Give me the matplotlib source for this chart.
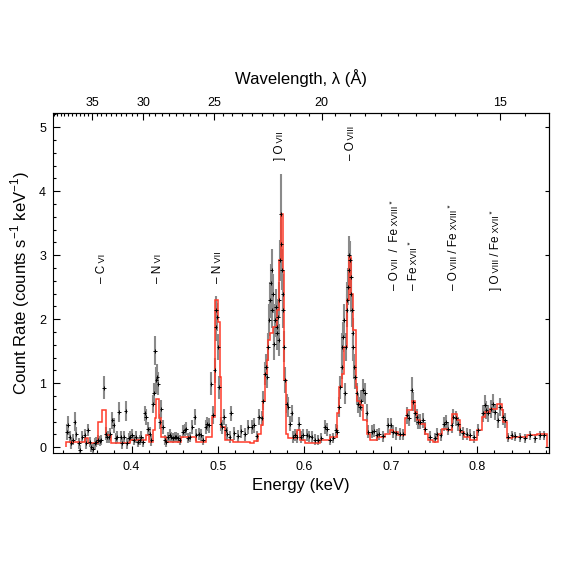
import numpy as np
import matplotlib
matplotlib.use('Agg')
import matplotlib.pyplot as plt
from matplotlib.ticker import MultipleLocator, FixedLocator

plt.rcParams['font.family'] = ['Liberation Sans', 'DejaVu Sans']

# ---------------- data ----------------
energy = [
    0.3251, 0.3263, 0.3282, 0.3301, 0.3321, 0.3340, 0.3359, 0.3390, 0.3405, 0.3429,
    0.3456, 0.3475, 0.3494, 0.3513, 0.3533, 0.3552, 0.3571, 0.3591, 0.3610, 0.3629,
    0.3648, 0.3679, 0.3699, 0.3714, 0.3733, 0.3753, 0.3776, 0.3791, 0.3814, 0.3834,
    0.3853, 0.3872, 0.3891, 0.3911, 0.3930, 0.3945, 0.3965, 0.3984, 0.4003, 0.4023,
    0.4046, 0.4073, 0.4092, 0.4111, 0.4131, 0.4150, 0.4169, 0.4189, 0.4208, 0.4227,
    0.4246, 0.4258, 0.4270, 0.4285, 0.4297, 0.4308, 0.4324, 0.4343, 0.4362, 0.4381,
    0.4401, 0.4420, 0.4439, 0.4459, 0.4478, 0.4497, 0.4517, 0.4536, 0.4555, 0.4594,
    0.4613, 0.4632, 0.4652, 0.4671, 0.4702, 0.4729, 0.4748, 0.4779, 0.4806, 0.4825,
    0.4856, 0.4875, 0.4895, 0.4922, 0.4941, 0.4960, 0.4972, 0.4979, 0.4991, 0.5003,
    0.5014, 0.5030, 0.5049, 0.5068, 0.5088, 0.5107, 0.5134, 0.5153, 0.5190, 0.5230,
    0.5270, 0.5310, 0.5350,
    0.5388, 0.5415, 0.5446, 0.5477, 0.5504, 0.5523, 0.5543, 0.5554, 0.5570, 0.5581,
    0.5593, 0.5600, 0.5608, 0.5620, 0.5627, 0.5639, 0.5647, 0.5658, 0.5670, 0.5678,
    0.5685, 0.5693, 0.5701, 0.5709, 0.5716, 0.5724, 0.5732, 0.5739, 0.5747, 0.5755,
    0.5762, 0.5774, 0.5793, 0.5813, 0.5832, 0.5851, 0.5871, 0.5890, 0.5909, 0.5940,
    0.5955, 0.5986, 0.6025, 0.6056, 0.6083, 0.6121, 0.6160, 0.6198, 0.6237, 0.6264,
    0.6295, 0.6334, 0.6364, 0.6380, 0.6403, 0.6418, 0.6430, 0.6441, 0.6449, 0.6457,
    0.6469, 0.6476, 0.6488, 0.6496, 0.6503, 0.6511, 0.6519, 0.6526, 0.6534, 0.6542,
    0.6550, 0.6557, 0.6565, 0.6577, 0.6588, 0.6604, 0.6623, 0.6642, 0.6661, 0.6681,
    0.6700, 0.6719, 0.6739,
    0.6777, 0.6804, 0.6835, 0.6866, 0.6912, 0.6970, 0.6997, 0.7028, 0.7059, 0.7105,
    0.7144, 0.7190, 0.7213, 0.7240, 0.7260, 0.7279, 0.7298, 0.7317, 0.7344, 0.7375,
    0.7395, 0.7452, 0.7510, 0.7530, 0.7576, 0.7614, 0.7638, 0.7665, 0.7703, 0.7723,
    0.7753, 0.7780, 0.7807, 0.7838, 0.7877, 0.7915, 0.7962, 0.8012, 0.8070, 0.8089,
    0.8108, 0.8128, 0.8155, 0.8185, 0.8205, 0.8243, 0.8263, 0.8301, 0.8321, 0.8359,
    0.8398, 0.8436, 0.8494, 0.8552, 0.8610, 0.8668, 0.8726, 0.8772,
]
rate = [
    0.24, 0.34, 0.16, 0.06, 0.12, 0.40, 0.21, 0.06, -0.05, 0.16,
    0.19, 0.06, 0.27, 0.08, 0.01, -0.02, 0.06, 0.08, 0.11, 0.10,
    0.11, 0.93, 0.21, 0.16, 0.16, 0.20, 0.42, 0.34, 0.14, 0.16,
    0.55, 0.16, 0.06, 0.16, 0.57, 0.06, 0.14, 0.16, 0.19, 0.11,
    0.16, 0.08, 0.11, 0.16, 0.08, 0.53, 0.47, 0.29, 0.21, 0.11,
    0.68, 0.84, 1.51, 1.05, 1.10, 0.99, 0.40, 0.60, 0.32, 0.11,
    0.08, 0.16, 0.19, 0.16, 0.14, 0.16, 0.16, 0.14, 0.11, 0.24,
    0.27, 0.29, 0.14, 0.16, 0.32, 0.47, 0.19, 0.21, 0.19, 0.11,
    0.32, 0.37, 0.34, 0.99, 0.50, 1.20, 1.88, 2.14, 2.04, 1.57,
    0.94, 0.37, 0.32, 0.47, 0.27, 0.21, 0.16, 0.53, 0.22, 0.18,
    0.25, 0.20, 0.32,
    0.32, 0.34, 0.17, 0.47, 0.45, 0.73, 1.15, 1.26, 1.10, 1.57,
    1.98, 2.30, 2.56, 2.77, 2.14, 2.40, 1.62, 1.98, 2.19, 1.88,
    1.78, 2.04, 1.67, 2.30, 2.92, 3.65, 3.18, 2.77, 2.40, 2.14,
    1.57, 1.05, 0.68, 0.63, 0.37, 0.53, 0.16, 0.19, 0.16, 0.37,
    0.16, 0.19, 0.19, 0.17, 0.16, 0.12, 0.11, 0.14, 0.32, 0.28,
    0.12, 0.14, 0.27, 0.24, 0.63, 0.94, 1.26, 1.57, 1.72, 1.98,
    0.84, 1.57, 2.14, 2.30, 2.51, 2.77, 3.00, 2.92, 2.40, 2.66,
    2.14, 1.78, 1.57, 1.26, 1.10, 0.84, 0.68, 0.63, 0.73, 0.89,
    0.84, 0.53, 0.24,
    0.24, 0.26, 0.19, 0.21, 0.17, 0.34, 0.34, 0.24, 0.22, 0.21,
    0.20, 0.50, 0.45, 0.89, 0.71, 0.53, 0.47, 0.40, 0.40, 0.42,
    0.29, 0.16, 0.14, 0.21, 0.19, 0.37, 0.40, 0.29, 0.34, 0.48,
    0.45, 0.37, 0.27, 0.22, 0.21, 0.19, 0.16, 0.27, 0.53, 0.66,
    0.58, 0.53, 0.60, 0.68, 0.55, 0.42, 0.63, 0.47, 0.42, 0.16,
    0.19, 0.17, 0.16, 0.14, 0.19, 0.14, 0.19, 0.19,
]
rate_err = [
    0.12, 0.15, 0.10, 0.08, 0.09, 0.15, 0.10, 0.08, 0.08, 0.10,
    0.10, 0.08, 0.10, 0.08, 0.08, 0.08, 0.08, 0.08, 0.08, 0.08,
    0.08, 0.18, 0.10, 0.09, 0.09, 0.10, 0.13, 0.12, 0.09, 0.09,
    0.16, 0.09, 0.08, 0.09, 0.16, 0.08, 0.09, 0.09, 0.09, 0.08,
    0.09, 0.08, 0.08, 0.09, 0.08, 0.12, 0.12, 0.11, 0.10, 0.09,
    0.14, 0.16, 0.22, 0.20, 0.20, 0.18, 0.12, 0.14, 0.11, 0.08,
    0.08, 0.08, 0.09, 0.08, 0.08, 0.08, 0.08, 0.08, 0.08, 0.10,
    0.10, 0.10, 0.08, 0.08, 0.11, 0.12, 0.09, 0.09, 0.09, 0.08,
    0.11, 0.11, 0.11, 0.18, 0.14, 0.20, 0.22, 0.22, 0.22, 0.20,
    0.18, 0.11, 0.11, 0.12, 0.10, 0.10, 0.09, 0.12, 0.10, 0.09,
    0.10, 0.10, 0.11,
    0.11, 0.11, 0.09, 0.12, 0.12, 0.15, 0.18, 0.19, 0.18, 0.22,
    0.25, 0.28, 0.30, 0.32, 0.28, 0.30, 0.25, 0.26, 0.28, 0.26,
    0.26, 0.27, 0.25, 0.28, 0.32, 0.62, 0.34, 0.32, 0.30, 0.28,
    0.24, 0.20, 0.15, 0.15, 0.12, 0.13, 0.09, 0.09, 0.09, 0.11,
    0.09, 0.09, 0.09, 0.09, 0.09, 0.08, 0.08, 0.08, 0.11, 0.10,
    0.08, 0.08, 0.10, 0.10, 0.15, 0.18, 0.20, 0.22, 0.24, 0.26,
    0.17, 0.22, 0.26, 0.28, 0.29, 0.30, 0.30, 0.30, 0.28, 0.29,
    0.26, 0.24, 0.22, 0.20, 0.19, 0.17, 0.15, 0.15, 0.16, 0.17,
    0.17, 0.14, 0.10,
    0.10, 0.10, 0.09, 0.09, 0.09, 0.11, 0.11, 0.10, 0.10, 0.09,
    0.09, 0.13, 0.12, 0.20, 0.15, 0.13, 0.12, 0.12, 0.12, 0.12,
    0.10, 0.09, 0.08, 0.09, 0.09, 0.11, 0.11, 0.10, 0.11, 0.12,
    0.12, 0.11, 0.10, 0.10, 0.09, 0.09, 0.09, 0.10, 0.13, 0.16,
    0.14, 0.13, 0.14, 0.15, 0.13, 0.12, 0.14, 0.12, 0.12, 0.07,
    0.07, 0.07, 0.07, 0.07, 0.07, 0.07, 0.07, 0.07,
]
bin_half_width = 0.002

# model (red step curve): bin edges and values
model_edges = [
    0.3243, 0.3300, 0.3320, 0.3456, 0.3494, 0.3610, 0.3660, 0.3700, 0.3764, 0.3977,
    0.4169, 0.4200, 0.4247, 0.4266, 0.4285, 0.4316, 0.4343, 0.4400, 0.4574, 0.4748,
    0.4863, 0.4933, 0.4961, 0.4999, 0.5019, 0.5037, 0.5076, 0.5173, 0.5369, 0.5420,
    0.5466, 0.5500, 0.5523, 0.5543, 0.5562, 0.5581, 0.5601, 0.5639, 0.5678, 0.5708,
    0.5724, 0.5747, 0.5766, 0.5786, 0.5813, 0.5917, 0.5948, 0.6006, 0.6179, 0.6295,
    0.6380, 0.6403, 0.6430, 0.6457, 0.6488, 0.6515, 0.6538, 0.6565, 0.6596, 0.6611,
    0.6642, 0.6681, 0.6720, 0.6758, 0.6836, 0.6932, 0.6990, 0.7028, 0.7086, 0.7163,
    0.7183, 0.7241, 0.7279, 0.7299, 0.7337, 0.7395, 0.7433, 0.7491, 0.7549, 0.7588,
    0.7646, 0.7704, 0.7769, 0.7800, 0.7846, 0.7916, 0.7993, 0.8051, 0.8089, 0.8147,
    0.8225, 0.8282, 0.8301, 0.8340, 0.8398, 0.8572, 0.8688, 0.8803,
]
model_rate = [
    0.08, 0.06, 0.08, 0.14, 0.07, 0.40, 0.58, 0.19, 0.07, 0.11,
    0.19, 0.08, 0.27, 0.45, 0.76, 0.45, 0.16, 0.08, 0.16, 0.08,
    0.16, 0.47, 2.30, 1.96, 1.10, 0.32, 0.11, 0.09, 0.07, 0.10,
    0.20, 0.35, 0.73, 1.15, 1.36, 1.67, 1.78, 1.88, 2.14, 2.92,
    3.65, 2.76, 1.05, 0.21, 0.14, 0.27, 0.11, 0.06, 0.12, 0.16,
    0.53, 0.94, 1.15, 1.57, 2.30, 2.97, 2.40, 1.83, 0.94, 0.73,
    0.66, 0.42, 0.21, 0.11, 0.16, 0.21, 0.27, 0.24, 0.19, 0.45,
    0.58, 0.73, 0.55, 0.42, 0.37, 0.21, 0.11, 0.08, 0.21, 0.29,
    0.27, 0.52, 0.42, 0.24, 0.16, 0.11, 0.27, 0.47, 0.55, 0.60,
    0.68, 0.58, 0.40, 0.14, 0.16, 0.19, 0.20,
]

# line identifications: energy (keV), bottom of label (count rate), text pieces
line_energy = [0.3645, 0.4289, 0.4984, 0.5705, 0.6527, 0.7040, 0.7256, 0.7720, 0.8205]
line_base = [2.56, 2.56, 2.56, 4.48, 4.48, 2.45, 2.45, 2.45, 2.45]
line_text = [
    [("\u2013 C", "big"), (" VI", "small")],
    [("\u2013 N", "big"), (" VI", "small")],
    [("\u2013 N", "big"), (" VII", "small")],
    [("] O", "big"), (" VII", "small")],
    [("\u2013 O", "big"), (" VIII", "small")],
    [("\u2013 O", "big"), (" VII", "small"), ("  /  Fe", "big"), (" XVIII", "small"), (" *", "star")],
    [("\u2013 Fe", "big"), (" XVII", "small"), (" *", "star")],
    [("\u2013 O", "big"), (" VIII", "small"), (" / Fe", "big"), (" XVIII", "small"), (" *", "star")],
    [("] O", "big"), (" VIII", "small"), (" / Fe", "big"), (" XVII", "small"), (" *", "star")],
]

x_ticks = [0.4, 0.5, 0.6, 0.7, 0.8]
y_ticks = [0, 1, 2, 3, 4, 5]
wl_ticks = [35, 30, 25, 20, 15]
HC = 12.39842  # keV * Angstrom

# ---------------- figure ----------------
fig = plt.figure(figsize=(5.67, 5.67), dpi=100)
ax = fig.add_axes([0.0935, 0.201, 0.8745, 0.5997])

ax.errorbar(energy, rate, yerr=rate_err, fmt='none', ecolor='#8a8a8a',
            elinewidth=1.5, capsize=0, zorder=2)
ax.stairs(model_rate, model_edges, color='#ff3b2a', linewidth=1.1, zorder=3)
ax.errorbar(energy, rate, xerr=bin_half_width, fmt='|', color='black',
            ms=3, mew=0.7, elinewidth=0.7, capsize=0, zorder=4)

ax.set_xlim(0.309, 0.883)
ax.set_ylim(-0.09, 5.22)
ax.set_xticks(x_ticks)
ax.set_xticklabels([f"{v:.1f}" for v in x_ticks])
ax.xaxis.set_minor_locator(MultipleLocator(0.02))
ax.set_yticks(y_ticks)
ax.yaxis.set_minor_locator(MultipleLocator(0.2))
ax.tick_params(which='both', direction='in', top=False, right=False,
               labelsize=9, width=0.8)
ax.tick_params(which='major', length=5)
ax.tick_params(axis='x', which='major', pad=6)
ax.tick_params(axis='y', which='major', pad=5)
ax.tick_params(which='minor', length=2.5)
for s in ax.spines.values():
    s.set_linewidth(0.8)

ax.set_xlabel('Energy (keV)', fontsize=12, labelpad=3)
ax.set_ylabel('Count Rate (counts s$^{\\mathregular{-1}}$ keV$^{\\mathregular{-1}}$)',
              fontsize=12, labelpad=5)


def e2w(x):
    x = np.asarray(x, dtype=float)
    with np.errstate(divide='ignore', invalid='ignore'):
        return HC / x


sec = ax.secondary_xaxis('top', functions=(e2w, e2w))
sec.set_xticks(wl_ticks)
sec.set_xticklabels([str(v) for v in wl_ticks])
sec.xaxis.set_minor_locator(FixedLocator(np.arange(12.0, 42.0, 0.5)))
sec.tick_params(which='both', direction='in', labelsize=9, width=0.8)
sec.tick_params(which='major', length=5, pad=3)
sec.tick_params(which='minor', length=2.5)
sec.set_xlabel('Wavelength, \u03bb (\u00c5)', fontsize=12, labelpad=9)
sec.spines['top'].set_linewidth(0.8)

secy = ax.secondary_yaxis('right')
secy.set_yticks(y_ticks)
secy.tick_params(direction='in', length=3, width=0.8, labelright=False)
secy.spines['right'].set_linewidth(0.8)

# line labels (rotated, stacked pieces with small-caps ion stages)
sizes = {"big": 8.5, "small": 6.6, "star": 6.0}
renderer = fig.canvas.get_renderer()
for e, yb, pieces in zip(line_energy, line_base, line_text):
    off = 0.0
    for txt, kind in pieces:
        dx = 3.0 if kind != "star" else 0.2
        t = ax.annotate(txt, xy=(e, yb), xycoords='data', xytext=(dx, off),
                        textcoords='offset points', rotation=90,
                        rotation_mode='anchor', ha='left', va='baseline',
                        fontsize=sizes[kind], color='black', zorder=5)
        bb = t.get_window_extent(renderer)
        off += bb.height * 72.0 / fig.dpi

fig.savefig('out.png', dpi=100)
